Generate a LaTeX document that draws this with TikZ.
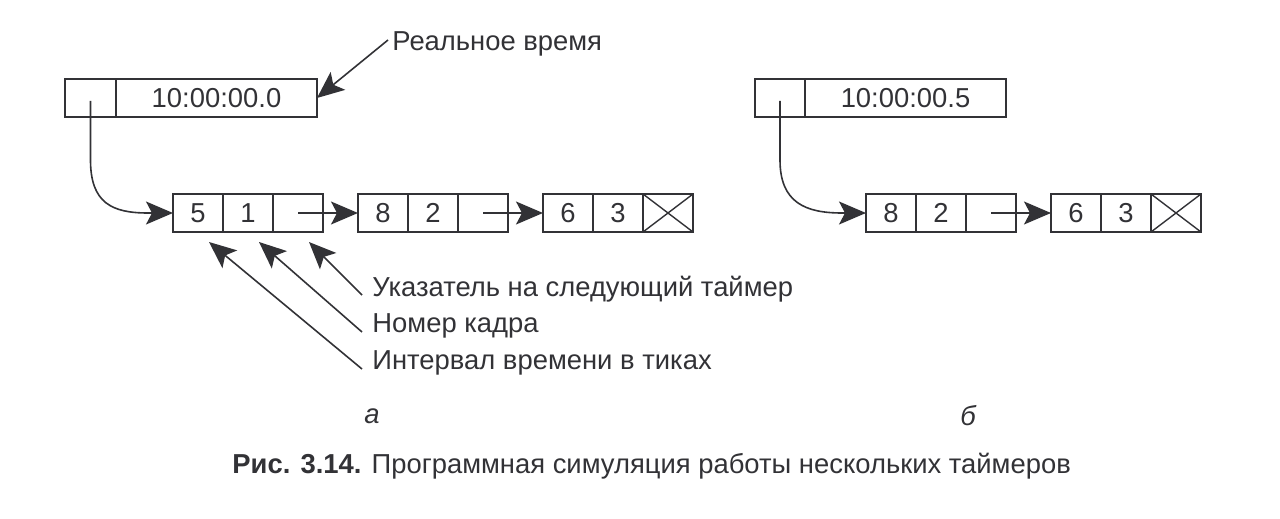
\documentclass[tikz,border=0pt]{standalone}
\usepackage{fontspec}
\setmainfont{Liberation Sans}
\usetikzlibrary{arrows.meta,calc}
\definecolor{ink}{RGB}{50,50,54}
\definecolor{tip}{RGB}{35,35,45}
\tikzset{myarrow/.tip={Stealth[length=13.5pt,width=11.5pt,inset=3pt]}}
\begin{document}
\begin{tikzpicture}[x=0.5pt,y=-0.5pt,
  every node/.style={text=ink},
  cell/.style={draw=ink, line width=0.8pt, minimum height=19pt, minimum width=25pt,
    inner sep=0pt, outer sep=0pt, anchor=north west, font=\fontsize{13.7}{16}\selectfont},
  lbl/.style={anchor=west, inner sep=0pt, font=\fontsize{13.7}{16}\selectfont},
  conn/.style={draw=ink, line width=0.8pt, arrows={-myarrow}}
]
\useasboundingbox (0,0) rectangle (1280,519);

% ---- part a ----
\node[cell, minimum width=25.5pt] (ta1) at (65,79) {};
\node[cell, minimum width=100.5pt] (ta2) at (116,79) {10:00:00.0};

\node[cell] (a11) at (173,194) {5};
\node[cell] (a12) at (223,194) {1};
\node[cell] (a13) at (273,194) {};
\node[cell] (a21) at (358,194) {8};
\node[cell] (a22) at (408,194) {2};
\node[cell] (a23) at (458,194) {};
\node[cell] (a31) at (543,194) {6};
\node[cell] (a32) at (593,194) {3};
\node[cell] (a33) at (643,194) {};
\draw[ink, line width=0.7pt] (a33.north west) -- (a33.south east) (a33.north east) -- (a33.south west);

\node[lbl] (rt) at (392,44) {Реальное время};
\draw[conn] ([shift={(-4,-4)}]rt.west) -- (ta2.east);

\draw[conn] ([shift={(0,3)}]ta1.center) -- (ta1.center |- 0,160)
  .. controls (ta1.center |- 0,203) and (112,0 |- a11.west) .. (148,0 |- a11.west) -- (a11.west);
\draw[conn] (a13.center) -- (a21.west);
\draw[conn] (a23.center) -- (a31.west);

\node[lbl] (l1) at (372,289) {Указатель на следующий таймер};
\node[lbl] (l2) at (372,326) {Номер кадра};
\node[lbl] (l3) at (372,363) {Интервал времени в тиках};
\draw[conn] ([shift={(-10,6)}]l1.west) -- ([shift={(11,10)}]a13.south);
\draw[conn] ([shift={(-10,6)}]l2.west) -- ([shift={(11,10)}]a12.south);
\draw[conn] ([shift={(-10,6)}]l3.west) -- ([shift={(11,10)}]a11.south);

% ---- part b ----
\node[cell, minimum width=25pt] (tb1) at (755,79) {};
\node[cell, minimum width=100.5pt] (tb2) at (805,79) {10:00:00.5};

\node[cell] (b11) at (866,194) {8};
\node[cell] (b12) at (916,194) {2};
\node[cell] (b13) at (966,194) {};
\node[cell] (b21) at (1051,194) {6};
\node[cell] (b22) at (1101,194) {3};
\node[cell] (b23) at (1151,194) {};
\draw[ink, line width=0.7pt] (b23.north west) -- (b23.south east) (b23.north east) -- (b23.south west);

\draw[conn] ([shift={(0,3)}]tb1.center) -- (tb1.center |- 0,160)
  .. controls (tb1.center |- 0,203) and (806,0 |- b11.west) .. (842,0 |- b11.west) -- (b11.west);
\draw[conn] (b13.center) -- (b21.west);

% ---- captions ----
\node[font=\fontsize{13.7}{16}\selectfont\itshape] (ca) at (372,416) {а};
\node[font=\fontsize{13.7}{16}\selectfont\itshape] (cb) at (968,416) {б};
\node[font=\fontsize{13.7}{16}\selectfont, anchor=west, inner sep=0pt] (cap) at (232,466)
  {\textbf{Рис. 3.14.} Программная симуляция работы нескольких таймеров};
\end{tikzpicture}
\end{document}
